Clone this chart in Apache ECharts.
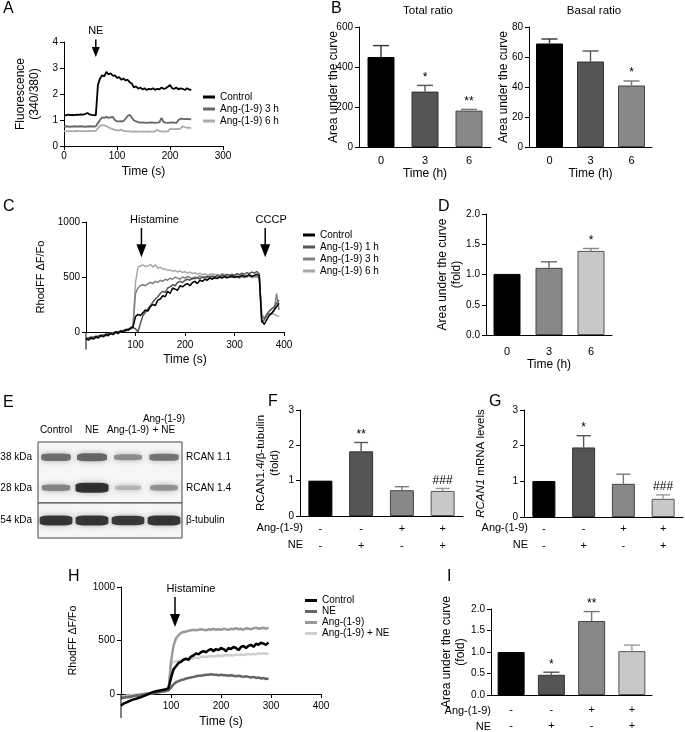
<!DOCTYPE html>
<html><head><meta charset="utf-8">
<script src="https://cdn.jsdelivr.net/npm/echarts@6/dist/echarts.min.js"></script>
<style>html,body{margin:0;padding:0;background:#fff}#c{width:685px;height:732px}</style>
</head><body><div id="c"></div>
<script>
const F = '"Liberation Sans", Arial, Helvetica, sans-serif';

// ---------- Panel A ----------
const aTime = [0,4,8,12,16,20,24,28,32,36,40,44,48,52,56,60,64,68,72,76,80,84,88,92,96,100,104,108,112,116,120,124,128,132,136,140,144,148,152,156,160,164,168,172,176,180,184,188,192,196,200,204,208,212,216,220,224,228,232,236,240];
const aControl = [1.20,1.18,1.21,1.19,1.20,1.19,1.21,1.20,1.22,1.21,1.23,1.27,1.22,1.20,1.19,1.18,2.35,2.60,2.72,2.68,2.85,2.75,2.80,2.70,2.72,2.62,2.65,2.55,2.60,2.52,2.55,2.45,2.40,2.25,2.30,2.20,2.25,2.18,2.22,2.15,2.20,2.18,2.22,2.16,2.20,2.18,2.25,2.20,2.22,2.28,2.35,2.22,2.20,2.25,2.18,2.22,2.20,2.15,2.22,2.18,2.15];
const aAng3 = [0.75,0.76,0.75,0.74,0.75,0.76,0.75,0.75,0.76,0.75,0.74,0.75,0.76,0.75,0.75,0.76,0.88,1.00,1.10,1.08,1.12,1.08,1.10,1.12,1.00,0.95,0.95,0.96,0.95,1.05,1.15,1.20,1.10,0.98,0.95,0.92,0.90,0.91,0.90,0.89,0.90,0.91,0.90,0.89,0.90,0.91,1.08,0.92,0.90,0.89,0.90,0.91,0.90,0.89,1.00,1.05,1.04,1.03,1.04,1.03,1.02];
const aAng6 = [0.57,0.56,0.57,0.57,0.56,0.57,0.58,0.57,0.57,0.56,0.57,0.57,0.58,0.57,0.57,0.58,0.68,0.78,0.80,0.79,0.76,0.72,0.68,0.65,0.62,0.60,0.60,0.63,0.58,0.57,0.56,0.56,0.55,0.55,0.56,0.55,0.55,0.56,0.55,0.55,0.56,0.55,0.55,0.56,0.63,0.57,0.56,0.55,0.56,0.56,0.66,0.65,0.65,0.66,0.65,0.68,0.76,0.72,0.71,0.70,0.70];
const aArrow = {x:[60], top:[4.1], tip:[3.42], label:['NE']};

// ---------- Panel B ----------
const bCats = ['0','3','6'];
const bTotal = [450,277,182], bTotalErr = [507,308,188], bTotalSig = ['','*','**'];
const bBasal = [69,57,41], bBasalErr = [72,64,44], bBasalSig = ['','','*'];

// ---------- Panel C ----------
const cTime = [0,5,10,15,20,25,30,35,40,45,50,55,60,65,70,75,80,85,90,95,100,105,110,115,120,125,130,135,140,145,150,155,160,165,170,175,180,185,190,195,200,205,210,215,220,225,230,235,240,245,250,255,260,265,270,275,280,285,290,295,300,305,310,315,320,325,330,335,340,345,350,355,360,365,370,375,380,385,390];
const cControl = [-60,-75,-50,-65,-40,-55,-30,-45,-20,-35,-10,-25,5,-15,10,0,20,15,35,45,
 140,160,150,175,200,190,230,250,240,290,300,330,320,370,350,400,390,380,420,410,430,440,420,450,460,440,470,460,480,470,490,480,495,485,500,490,505,495,500,510,495,505,500,515,505,510,520,505,515,525,510,
 100,70,110,150,170,200,230,260];
const cAng1 = [-70,-50,-60,-45,-55,-35,-40,-25,-35,-15,-20,-5,-10,5,0,15,10,25,30,40,
 30,0,80,150,180,210,240,270,300,320,350,370,360,400,410,430,420,450,460,450,470,480,470,490,485,495,480,500,490,505,495,510,500,515,505,520,510,520,515,525,515,530,520,535,525,540,530,545,535,550,530,
 90,110,160,190,210,230,260,290];
const cAng3 = [-50,-65,-40,-55,-35,-45,-25,-40,-15,-30,-5,-20,0,-10,15,5,25,20,40,55,
 350,400,420,430,420,440,450,440,460,450,470,460,480,470,490,480,500,490,480,500,490,505,495,480,500,490,510,495,505,490,510,500,490,505,495,510,500,490,505,495,510,500,490,505,495,500,510,495,505,500,495,
 150,120,140,170,160,190,350,200];
const cAng6 = [-65,-55,-70,-45,-50,-40,-30,-35,-25,-20,-15,-10,-5,0,5,10,20,30,35,50,
 450,590,600,610,595,600,615,590,610,580,590,570,575,560,565,550,560,545,555,540,550,535,545,530,540,525,535,520,530,515,525,530,520,525,515,530,520,525,515,520,510,525,515,520,510,515,505,515,505,510,500,
 160,130,150,140,170,160,150,140];
const cArrow = {x:[112,362], top:[945,945], tip:[680,680], label:['Histamine','CCCP'], dx:[13,6]};

// ---------- Panel D ----------
const dCats = ['0','3','6'];
const dVals = [1.01,1.11,1.39], dErr = [1.01,1.21,1.43], dSig = ['','','*'];

// ---------- Panel E (blot) ----------
const eLanes = ['Control','NE','Ang-(1-9)','Ang-(1-9)\n+ NE'];
const eRowsTop = ['38 kDa','28 kDa'], eNamesTop = ['RCAN 1.1','RCAN 1.4'];
const eRowsBot = ['54 kDa'], eNamesBot = ['β-tubulin'];
const eRcan11 = [0.62,0.68,0.45,0.6];
const eRcan14 = [0.5,1.0,0.22,0.42];
const eTubulin = [0.97,0.97,0.95,0.97];

// ---------- Panel F / G / I ----------
const grpAng = ['-','-','+','+'];
const grpNE = ['-','+','-','+'];
const fVals = [1.0,1.83,0.73,0.71], fErr = [1.0,2.08,0.83,0.78], fSig = ['','**','','###'];
const gVals = [1.01,1.95,0.93,0.51], gErr = [1.01,2.28,1.2,0.62], gSig = ['','*','','###'];
const iVals = [1.0,0.47,1.72,1.02], iErr = [1.0,0.53,1.94,1.16], iSig = ['','*','**',''];

// ---------- Panel H ----------
const hTime = [0,5,10,15,20,25,30,35,40,45,50,55,60,65,70,75,80,85,90,95,100,105,110,115,120,125,130,135,140,145,150,155,160,165,170,175,180,185,190,195,200,205,210,215,220,225,230,235,240,245,250,255,260,265,270,275,280,285,290,295];
const hControl = [-110,-90,-80,-70,-60,-50,-45,-35,-30,-20,-10,0,10,20,25,30,35,40,45,55,
 150,230,260,290,300,320,330,320,350,360,380,370,390,400,390,410,420,400,420,410,430,420,400,430,420,440,430,410,440,450,430,450,460,440,470,460,480,470,460,480];
const hNE = [-40,-35,-30,-30,-25,-20,-15,-15,-10,-5,0,0,5,10,15,15,20,25,30,35,
 60,90,110,120,130,135,145,150,155,160,165,170,170,175,180,180,185,180,180,175,180,175,175,170,175,170,165,170,165,160,165,160,155,160,150,155,145,150,140,145];
const hAng = [-30,-30,-25,-25,-20,-15,-15,-10,-5,-5,0,5,5,10,15,20,20,25,30,35,
 300,450,520,550,570,580,585,590,595,600,595,600,605,600,595,605,600,610,600,605,600,610,605,600,610,605,615,605,610,600,615,610,605,615,620,610,615,620,610,620];
const hAngNE = [-20,-20,-15,-15,-10,-10,-5,-5,0,0,5,5,10,10,15,15,20,20,25,30,
 280,300,305,310,315,320,325,320,330,335,340,335,345,350,345,350,355,350,355,360,355,360,365,360,365,360,370,365,370,365,370,375,370,375,370,380,375,380,375,380];
const hArrow = {x:[108], top:[906], tip:[626], label:['Histamine'], dx:[16]};

// ================= helpers =================
function isObj(o){return o && typeof o==='object' && !Array.isArray(o);}
function merge(a,b){const r=Object.assign({},a);for(const k in b){r[k]=(isObj(a[k])&&isObj(b[k]))?merge(a[k],b[k]):b[k];}return r;}
const zip = (xs,ys)=>xs.map((x,i)=>[x,ys[i]]);
const plain = (v)=>String(v);

function vAxis(gi, extra){
  return merge({type:'value', gridIndex:gi, nameMoveOverlap:false,
    axisLine:{show:true, onZero:false, lineStyle:{color:'#000', width:1}},
    axisTick:{show:true, inside:false, length:4, lineStyle:{color:'#000', width:1}},
    axisLabel:{color:'#000', fontSize:10, fontFamily:F, margin:6, formatter:plain},
    splitLine:{show:false},
    nameLocation:'middle', nameRotate:90,
    nameTextStyle:{color:'#000', fontSize:12, fontFamily:F, lineHeight:14}}, extra||{});
}
function xvAxis(gi, extra){
  return merge({type:'value', gridIndex:gi, nameMoveOverlap:false,
    axisLine:{show:true, onZero:false, lineStyle:{color:'#000', width:1}},
    axisTick:{show:true, inside:false, length:4, lineStyle:{color:'#000', width:1}},
    axisLabel:{color:'#000', fontSize:10, fontFamily:F, margin:5, formatter:plain},
    splitLine:{show:false},
    nameLocation:'middle',
    nameTextStyle:{color:'#000', fontSize:12, fontFamily:F}}, extra||{});
}
function cAxis(gi, cats, extra){
  return merge({type:'category', gridIndex:gi, data:cats, nameMoveOverlap:false,
    axisLine:{show:true, lineStyle:{color:'#000', width:1}},
    axisTick:{show:false},
    axisLabel:{color:'#000', fontSize:11, fontFamily:F, margin:8, interval:0},
    splitLine:{show:false},
    nameLocation:'middle',
    nameTextStyle:{color:'#000', fontSize:12, fontFamily:F}}, extra||{});
}
function signLabels(){
  return {formatter:(v,i)=>grpAng[i]+'\n'+grpNE[i], lineHeight:17, fontSize:11};
}
function barSeries(gi, vals, colors, borders, bw){
  return {type:'bar', xAxisIndex:gi, yAxisIndex:gi, barWidth:bw, z:2,
    data: vals.map((v,i)=>({value:v, itemStyle:{color:colors[i], borderColor:borders[i], borderWidth:1}}))};
}
function errSeries(gi, vals, errs, sig, colors, capW){
  return {type:'custom', xAxisIndex:gi, yAxisIndex:gi, z:3, clip:false,
    data: vals.map((v,i)=>[i, v, errs[i]]),
    renderItem:(params, api)=>{
      const i = params.dataIndex;
      const p0 = api.coord([api.value(0), api.value(1)]);
      const p1 = api.coord([api.value(0), api.value(2)]);
      const ch = [];
      if (p1[1] < p0[1]-0.5){
        ch.push({type:'line', shape:{x1:p0[0],y1:p0[1],x2:p1[0],y2:p1[1]}, style:{stroke:colors[i], lineWidth:1.4}});
        ch.push({type:'line', shape:{x1:p1[0]-capW/2,y1:p1[1],x2:p1[0]+capW/2,y2:p1[1]}, style:{stroke:colors[i], lineWidth:1.4}});
      }
      if (sig[i]) ch.push({type:'text', x:p1[0], y:p1[1]-2, style:{text:sig[i], align:'center', verticalAlign:'bottom', fontSize:12, fontFamily:F, fill:'#000'}});
      return {type:'group', children:ch};
    }};
}
function arrowSeries(gi, arr, hw, hh, fs){
  return {type:'custom', xAxisIndex:gi, yAxisIndex:gi, z:6, clip:false,
    data: arr.x.map((x,i)=>[x, arr.top[i], arr.tip[i]]),
    renderItem:(params, api)=>{
      const i = params.dataIndex;
      const pt = api.coord([api.value(0), api.value(1)]);
      const pp = api.coord([api.value(0), api.value(2)]);
      const dx = arr.dx ? arr.dx[i] : 0;
      return {type:'group', children:[
        {type:'line', shape:{x1:pt[0],y1:pt[1],x2:pp[0],y2:pp[1]-hh+1}, style:{stroke:'#000', lineWidth:1.5}},
        {type:'polygon', shape:{points:[[pp[0]-hw/2,pp[1]-hh],[pp[0]+hw/2,pp[1]-hh],[pp[0],pp[1]]]}, style:{fill:'#000'}},
        {type:'text', x:pt[0]+dx, y:pt[1]-3, style:{text:arr.label[i], align:'center', verticalAlign:'bottom', fontSize:fs, fontFamily:F, fill:'#000'}}
      ]};
    }};
}
// extends the y axis line below zero, down to the given value
function axisExtSeries(gi, lowVal){
  return {type:'custom', xAxisIndex:gi, yAxisIndex:gi, z:4, clip:false, silent:true,
    data:[[0, 0, lowVal]],
    renderItem:(params, api)=>{
      const p0 = api.coord([api.value(0), api.value(1)]);
      const p1 = api.coord([api.value(0), api.value(2)]);
      return {type:'line', shape:{x1:p0[0],y1:p0[1],x2:p1[0],y2:p1[1]}, style:{stroke:'#000', lineWidth:1}};
    }};
}
function lineSeries(gi, name, xs, ys, color, w){
  return {type:'line', name:name, xAxisIndex:gi, yAxisIndex:gi, data:zip(xs,ys),
    showSymbol:false, symbol:'none', clip:false,
    lineStyle:{color:color, width:w}, itemStyle:{color:color}};
}
function blotSeries(gi, rowsVals){
  const data = [];
  rowsVals.forEach((vals, r)=>vals.forEach((v,i)=>data.push([i, r, v])));
  return {type:'scatter', xAxisIndex:gi, yAxisIndex:gi, data:data, symbol:'roundRect',
    symbolSize:(val)=>[24+9*val[2], 3+7*val[2]],
    itemStyle:{
      color:(p)=>{const g=Math.round(215-205*p.value[2]);return 'rgb('+g+','+g+','+g+')';},
      shadowBlur:6, shadowColor:'rgba(0,0,0,0.35)'}};
}
function legendCfg(left, top, names, lh){
  return {left:left, top:top, orient:'vertical', padding:0, itemGap:0, itemWidth:12, itemHeight:3,
    icon:'rect', selectedMode:false, data:names, formatter:(n)=>n.slice(2),
    textStyle:{fontSize:10, color:'#000', fontFamily:F, lineHeight:lh}};
}
function txt(x, y, text, fs, align, va, extra){
  return {type:'text', x:x, y:y, z:10, style:merge({text:text, fontSize:fs, fontFamily:F, fill:'#000', align:align||'left', verticalAlign:va||'top'}, extra||{})};
}

const barCols3a = ['#000','#555','#888'], barBrd3a = ['#000','#333','#444'], errCols3a = ['#333','#555','#777'];
const barCols3b = ['#000','#888','#c8c8c8'], barBrd3b = ['#000','#444','#555'], errCols3b = ['#333','#666','#888'];
const barCols4 = ['#000','#555','#888','#c8c8c8'], barBrd4 = ['#000','#333','#444','#555'], errCols4 = ['#333','#555','#777','#999'];

const option = {
  animation:false,
  backgroundColor:'#fff',
  textStyle:{fontFamily:F},
  grid:[
    {left:64, top:42, width:159, height:104},     // 0 A
    {left:359, top:27, width:132, height:120},    // 1 B1
    {left:529, top:27, width:123, height:120},    // 2 B2
    {left:86, top:222, width:198, height:110},    // 3 C (y 0..1000)
    {left:486, top:214, width:126, height:121},   // 4 D
    {left:38, top:442, width:144, height:61, show:true, backgroundColor:'#f6f6f6', borderColor:'#444', borderWidth:1}, // 5 E top
    {left:38, top:503, width:144, height:35, show:true, backgroundColor:'#f6f6f6', borderColor:'#444', borderWidth:1}, // 6 E bottom
    {left:300, top:410, width:163, height:106},   // 7 F
    {left:524, top:410, width:159, height:107},   // 8 G
    {left:121, top:587, width:200, height:107},   // 9 H (y 0..1000)
    {left:491, top:609, width:161, height:86}     // 10 I
  ].map(g=>Object.assign({containLabel:false, outerBoundsMode:'none'}, g)),
  xAxis:[
    xvAxis(0, {min:0, max:300, interval:100, name:'Time (s)', nameGap:20}),
    cAxis(1, bCats, {name:'Time (h)', nameGap:21, axisLabel:{margin:8}}),
    cAxis(2, bCats, {name:'Time (h)', nameGap:21, axisLabel:{margin:8}}),
    xvAxis(3, {min:0, max:400, interval:100, name:'Time (s)', nameGap:22, axisLabel:{showMinLabel:false, margin:8}}),
    cAxis(4, dCats, {name:'Time (h)', nameGap:24, axisLabel:{margin:11}}),
    {type:'category', gridIndex:5, position:'top', data:eLanes,
      axisLine:{show:false}, axisTick:{show:false}, splitLine:{show:false},
      axisLabel:{interval:0, fontSize:10, fontFamily:F, color:'#000', margin:6, lineHeight:11}},
    {type:'category', gridIndex:6, data:eLanes, show:false},
    cAxis(7, eLanes, {axisLabel:merge(signLabels(), {margin:4})}),
    cAxis(8, eLanes, {axisLabel:merge(signLabels(), {margin:3})}),
    xvAxis(9, {min:0, max:400, interval:100, name:'Time (s)', nameGap:22, axisLabel:{showMinLabel:false, margin:7}}),
    cAxis(10, eLanes, {axisLabel:merge(signLabels(), {margin:7, lineHeight:16})})
  ],
  yAxis:[
    vAxis(0, {min:0, max:4, interval:1, name:'Fluorescence\n(340/380)', nameGap:22}),
    vAxis(1, {min:0, max:600, interval:200, name:'Area under the curve', nameGap:18}),
    vAxis(2, {min:0, max:80, interval:20, name:'Area under the curve', nameGap:18}),
    vAxis(3, {min:0, max:1000, interval:500, name:'RhodFF ΔF/Fo', nameGap:38, nameTextStyle:{fontSize:11}}),
    vAxis(4, {min:0, max:2, interval:0.5, name:'Area under the curve\n(fold)', nameGap:22,
      axisLabel:{formatter:(v)=>v.toFixed(1)}}),
    {type:'category', gridIndex:5, data:eRowsTop, inverse:true, axisLine:{show:false}, axisTick:{show:false}, splitLine:{show:false},
      axisLabel:{fontSize:10, fontFamily:F, color:'#000', margin:6}},
    {type:'category', gridIndex:6, data:eRowsBot, inverse:true, axisLine:{show:false}, axisTick:{show:false}, splitLine:{show:false},
      axisLabel:{fontSize:10, fontFamily:F, color:'#000', margin:6}},
    vAxis(7, {min:0, max:3, interval:1, name:'RCAN1.4/β-tubulin\n(fold)', nameGap:18, nameTextStyle:{fontSize:11.5}}),
    vAxis(8, {min:0, max:3, interval:1, name:'{i|RCAN1} mRNA levels', nameGap:36,
      nameTextStyle:{fontSize:11.5, rich:{i:{fontStyle:'italic', fontSize:11.5, fontFamily:F, color:'#000'}}}}),
    vAxis(9, {min:0, max:1000, interval:500, name:'RhodFF ΔF/Fo', nameGap:41, nameTextStyle:{fontSize:10.5}}),
    vAxis(10, {min:0, max:2, interval:0.5, name:'Area under the curve\n(fold)', nameGap:23,
      axisLabel:{formatter:(v)=>v.toFixed(1)}}),
    {type:'category', gridIndex:5, position:'right', data:eNamesTop, inverse:true, axisLine:{show:false}, axisTick:{show:false}, splitLine:{show:false},
      axisLabel:{fontSize:10, fontFamily:F, color:'#000', margin:4}},
    {type:'category', gridIndex:6, position:'right', data:eNamesBot, inverse:true, axisLine:{show:false}, axisTick:{show:false}, splitLine:{show:false},
      axisLabel:{fontSize:10, fontFamily:F, color:'#000', margin:4}}
  ],
  legend:[
    legendCfg(203, 91, ['A:Control','A:Ang-(1-9) 3 h','A:Ang-(1-9) 6 h'], 12),
    legendCfg(303, 229, ['C:Control','C:Ang-(1-9) 1 h','C:Ang-(1-9) 3 h','C:Ang-(1-9) 6 h'], 12),
    legendCfg(305, 595, ['H:Control','H:NE','H:Ang-(1-9)','H:Ang-(1-9) + NE'], 11)
  ],
  graphic:[
    txt(3, 1, 'A', 16), txt(331, 1, 'B', 16), txt(3, 199, 'C', 16), txt(438, 199, 'D', 16),
    txt(3, 395, 'E', 16), txt(268, 394, 'F', 16), txt(489, 394, 'G', 16), txt(68, 569, 'H', 16), txt(447, 569, 'I', 16),
    txt(428, 11, 'Total ratio', 11.5, 'center', 'middle'),
    txt(594, 11, 'Basal ratio', 11.5, 'center', 'middle'),
    txt(303, 528, 'Ang-(1-9)', 11, 'right', 'middle'), txt(303, 545, 'NE', 11, 'right', 'middle'),
    txt(528, 528, 'Ang-(1-9)', 11, 'right', 'middle'), txt(528, 545, 'NE', 11, 'right', 'middle'),
    txt(491, 711, 'Ang-(1-9)', 11, 'right', 'middle'), txt(491, 727, 'NE', 11, 'right', 'middle')
  ],
  series:[
    lineSeries(0, 'A:Ang-(1-9) 6 h', aTime, aAng6, '#aaa', 1.8),
    lineSeries(0, 'A:Ang-(1-9) 3 h', aTime, aAng3, '#666', 1.8),
    lineSeries(0, 'A:Control', aTime, aControl, '#000', 1.8),
    arrowSeries(0, aArrow, 8, 10, 11),
    barSeries(1, bTotal, barCols3a, barBrd3a, 27),
    errSeries(1, bTotal, bTotalErr, bTotalSig, errCols3a, 16),
    barSeries(2, bBasal, barCols3a, barBrd3a, 27),
    errSeries(2, bBasal, bBasalErr, bBasalSig, errCols3a, 16),
    axisExtSeries(3, -160),
    lineSeries(3, 'C:Ang-(1-9) 6 h', cTime, cAng6, '#a8a8a8', 1.5),
    lineSeries(3, 'C:Ang-(1-9) 3 h', cTime, cAng3, '#808080', 1.5),
    lineSeries(3, 'C:Ang-(1-9) 1 h', cTime, cAng1, '#555', 1.5),
    lineSeries(3, 'C:Control', cTime, cControl, '#000', 1.5),
    arrowSeries(3, cArrow, 10, 13, 11),
    barSeries(4, dVals, barCols3b, barBrd3b, 27),
    errSeries(4, dVals, dErr, dSig, errCols3b, 16),
    blotSeries(5, [eRcan11, eRcan14]),
    blotSeries(6, [eTubulin]),
    barSeries(7, fVals, barCols4, barBrd4, 24),
    errSeries(7, fVals, fErr, fSig, errCols4, 14),
    barSeries(8, gVals, barCols4, barBrd4, 23),
    errSeries(8, gVals, gErr, gSig, errCols4, 14),
    axisExtSeries(9, -225),
    lineSeries(9, 'H:Ang-(1-9) + NE', hTime, hAngNE, '#cfcfcf', 2.5),
    lineSeries(9, 'H:Ang-(1-9)', hTime, hAng, '#9a9a9a', 2.5),
    lineSeries(9, 'H:NE', hTime, hNE, '#666', 2.5),
    lineSeries(9, 'H:Control', hTime, hControl, '#000', 2.5),
    arrowSeries(9, hArrow, 10, 13, 11),
    barSeries(10, iVals, barCols4, barBrd4, 27),
    errSeries(10, iVals, iErr, iSig, errCols4, 16)
  ]
};
const chart = echarts.init(document.getElementById('c'), null, {renderer:'canvas', width:685, height:732});
chart.setOption(option);
</script>
</body></html>
